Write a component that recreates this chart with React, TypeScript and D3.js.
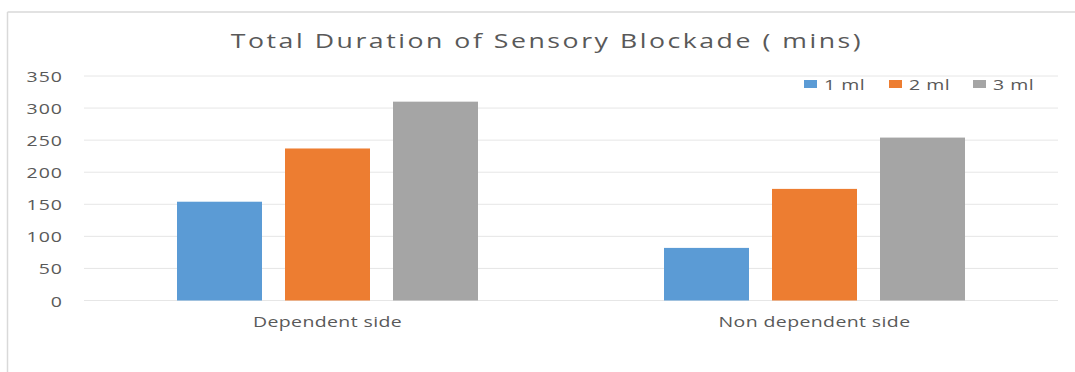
import React from "react";
import * as d3 from "d3";

const categories = ["Dependent side", "Non dependent side"];
const seriesNames = ["1 ml", "2 ml", "3 ml"];
const series1 = [154, 82];
const series2 = [237, 174];
const series3 = [310, 254];
const yTicks = [0, 50, 100, 150, 200, 250, 300, 350];
const colors = ["#5b9bd5", "#ed7d31", "#a5a5a5"];
const title = "Total Duration of Sensory Blockade ( mins)";

const W = 1075;
const H = 372;
const SX = 1.3;
const FONT = "'Open Sans', 'DejaVu Sans', sans-serif";
const TXT = "#595959";

function T(props: { x: number; y: number; size: number; anchor?: string; children: React.ReactNode; ls?: number }) {
  const { x, y, size, anchor = "start", children, ls = 0 } = props;
  return (
    <text
      transform={`translate(${x},${y}) scale(${SX},1)`}
      fontSize={size}
      fontFamily={FONT}
      fill={TXT}
      textAnchor={anchor}
      dominantBaseline="central"
      letterSpacing={ls}
    >
      {children}
    </text>
  );
}

export default function App() {
  const plotLeft = 84;
  const plotRight = 1058;
  const yTop = 76;
  const yBottom = 300.5;

  const y = d3.scaleLinear().domain([0, 350]).range([yBottom, yTop]);
  const x0 = d3.scaleBand<string>().domain(categories).range([plotLeft, plotRight]).padding(0);
  const groupW = 301;
  const x1 = d3.scaleBand<string>().domain(seriesNames).range([0, groupW]).paddingInner(23 / 108).paddingOuter(0);
  const values = [series1, series2, series3];

  const legendX = [804, 889, 973];

  return (
    <svg width={W} height={H} style={{ position: "absolute", left: 0, top: 0 }}>
      <rect x={0} y={0} width={W} height={H} fill="#ffffff" />
      <line x1={7.5} y1={12} x2={W} y2={12} stroke="#d9d9d9" strokeWidth={1.5} />
      <line x1={7.5} y1={12} x2={7.5} y2={H} stroke="#d9d9d9" strokeWidth={1.5} />

      <T x={547} y={40} size={20.5} anchor="middle" ls={1.95}>{title}</T>

      {yTicks.map((t) => (
        <g key={t}>
          <line x1={plotLeft} x2={plotRight} y1={y(t)} y2={y(t)} stroke="#e6e6e6" strokeWidth={1} />
          <T x={63} y={y(t)} size={15} anchor="end" ls={0.8}>{t}</T>
        </g>
      ))}

      {categories.map((c, ci) => {
        const gx = (x0(c) as number) + (x0.bandwidth() - groupW) / 2;
        return (
          <g key={c}>
            {seriesNames.map((s, si) => (
              <rect
                key={s}
                x={gx + (x1(s) as number)}
                y={y(values[si][ci])}
                width={x1.bandwidth()}
                height={y(0) - y(values[si][ci])}
                fill={colors[si]}
              />
            ))}
            <T x={(x0(c) as number) + x0.bandwidth() / 2} y={321} size={15} anchor="middle" ls={0.3}>{c}</T>
          </g>
        );
      })}

      {seriesNames.map((s, i) => (
        <g key={s}>
          <rect x={legendX[i]} y={80} width={13} height={8} fill={colors[i]} />
          <T x={legendX[i] + 20} y={84} size={15} anchor="start" ls={0.4}>{s}</T>
        </g>
      ))}
    </svg>
  );
}
